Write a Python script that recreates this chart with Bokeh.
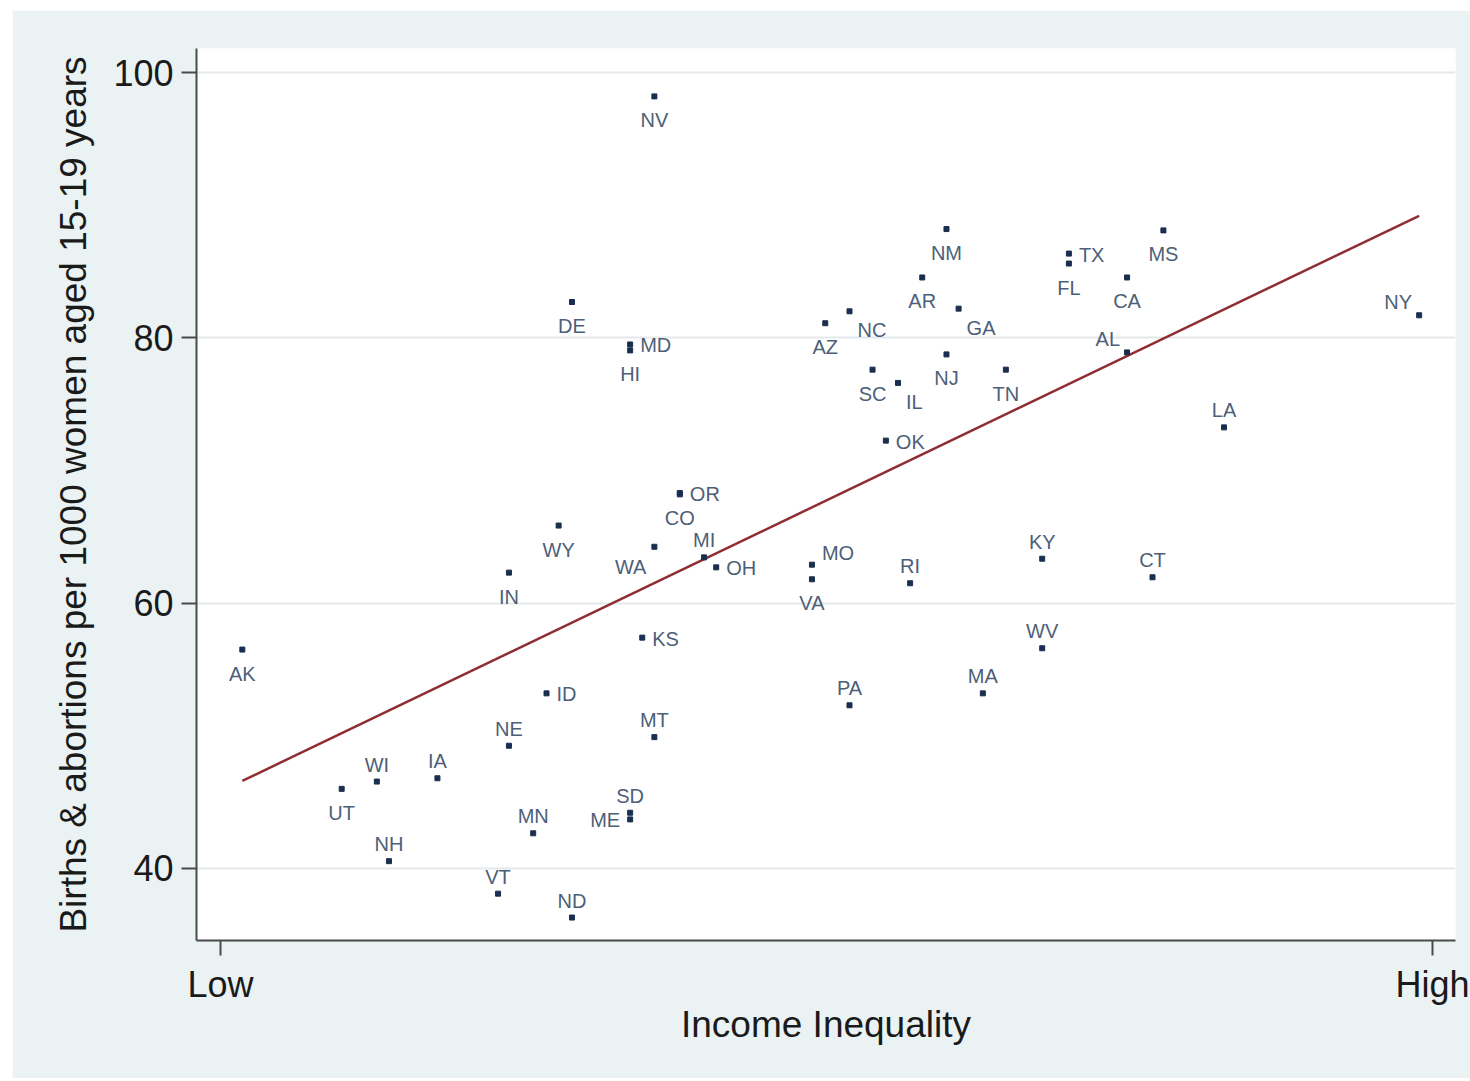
import numpy as np
from bokeh.plotting import figure
from bokeh.models import ColumnDataSource, FixedTicker, Range1d
from bokeh.core.properties import value
from bokeh.embed import file_html
from bokeh.resources import INLINE

# ---- data (income inequality scaled 0 = Low ... 1 = High) ----
states = ["NV", "NM", "MS", "TX", "FL", "CA", "AR", "DE", "GA", "NC",
          "AZ", "NY", "MD", "HI", "AL", "NJ", "TN", "SC", "IL", "LA",
          "OK", "OR", "CO", "WY", "WA", "KY", "MI", "OH", "MO", "VA",
          "IN", "CT", "RI", "KS", "AK", "WV", "ID", "MA", "PA", "MT",
          "NE", "IA", "WI", "UT", "SD", "ME", "MN", "NH", "VT", "ND"]
inequality = [0.358, 0.599, 0.778, 0.700, 0.700, 0.748, 0.579, 0.290, 0.609, 0.519,
              0.499, 0.989, 0.338, 0.338, 0.748, 0.599, 0.648, 0.538, 0.559, 0.828,
              0.549, 0.379, 0.379, 0.279, 0.358, 0.678, 0.399, 0.409, 0.488, 0.488,
              0.238, 0.769, 0.569, 0.348, 0.018, 0.678, 0.269, 0.629, 0.519, 0.358,
              0.238, 0.179, 0.129, 0.100, 0.338, 0.338, 0.258, 0.139, 0.229, 0.290]
teen_rate = [98.2, 88.2, 88.1, 86.35, 85.6, 84.55, 84.55, 82.7, 82.2, 82.0,
             81.1, 81.7, 79.5, 79.05, 78.9, 78.75, 77.6, 77.6, 76.6, 73.25,
             72.25, 68.3, 68.2, 65.85, 64.25, 63.35, 63.45, 62.7, 62.9, 61.8,
             62.3, 61.95, 61.5, 57.4, 56.5, 56.6, 53.2, 53.2, 52.3, 49.9,
             49.25, 46.8, 46.55, 46.0, 44.2, 43.7, 42.65, 40.55, 38.1, 36.3]

# marker-label clock positions (Stata style mlabvposition)
label_clock = [6, 6, 6, 3, 6, 6, 6, 6, 4, 4,
               6, 11, 3, 6, 11, 6, 6, 6, 4, 12,
               3, 3, 6, 6, 7, 12, 12, 3, 2, 6,
               6, 12, 12, 3, 6, 12, 3, 12, 12, 12,
               12, 12, 12, 6, 12, 9, 12, 12, 12, 12]

fit_y = [46.6, 89.2]            # fitted line at the lowest and highest x
y_ticks = [40, 60, 80, 100]
x_ticks = [0, 1]
x_tick_labels = ["Low", "High"]

x_title = "Income Inequality"
y_title = "Births & abortions per 1000 women aged 15-19 years"

# ---- style ----
FONT = "Liberation Sans"
BG = "#eaf2f3"
NAVY = "#1a2f4f"
LABEL_COL = "#4d5f78"
FIT_COL = "#8f2d33"
AXIS_COL = "#4a4a4a"

clock_style = {
    12: (0, -17, "center"),
    6: (0, 24, "center"),
    3: (10, 1, "left"),
    9: (-10, 1, "right"),
    4: (8, 19, "left"),
    7: (-8, 20, "right"),
    11: (-7, -13, "right"),
    2: (10, -12, "left"),
}
dx = [clock_style[c][0] for c in label_clock]
dy = [clock_style[c][1] for c in label_clock]
al = [clock_style[c][2] for c in label_clock]

src = ColumnDataSource(dict(x=inequality, y=teen_rate, state=states,
                            dx=dx, dy=dy, al=al))

fit_x = [min(inequality), max(inequality)]

p = figure(width=1458, height=1068,
           x_range=Range1d(-0.0198, 1.019), y_range=Range1d(34.57, 101.81),
           output_backend="svg", toolbar_location=None,
           min_border_left=184, min_border_right=15,
           min_border_top=38, min_border_bottom=138,
           background_fill_color="white", border_fill_color=BG,
           outline_line_color=None)
p.styles = {"margin-left": "12px", "margin-top": "10px"}

p.line(fit_x, fit_y, line_color=FIT_COL, line_width=2.5)
p.scatter("x", "y", source=src, marker="square", size=5,
          fill_color=NAVY, line_color=NAVY)
p.text("x", "y", text="state", source=src, x_offset="dx", y_offset="dy",
       text_align="al", text_baseline="alphabetic",
       text_font=value(FONT), text_font_size="20px", text_color=LABEL_COL)

# grid
p.xgrid.grid_line_color = None
p.ygrid.ticker = FixedTicker(ticks=y_ticks)
p.ygrid.grid_line_color = "#e3e8ea"
p.ygrid.grid_line_width = 2

# axes
p.xaxis.ticker = FixedTicker(ticks=x_ticks)
p.xaxis.major_label_overrides = {t: l for t, l in zip(x_ticks, x_tick_labels)}
p.yaxis.ticker = FixedTicker(ticks=y_ticks)
p.xaxis.axis_label = x_title
p.yaxis.axis_label = y_title

for ax in (p.xaxis, p.yaxis):
    ax.axis_line_color = AXIS_COL
    ax.axis_line_width = 2
    ax.major_tick_line_color = AXIS_COL
    ax.major_tick_line_width = 2
    ax.major_tick_out = 15
    ax.major_tick_in = 0
    ax.minor_tick_out = 0
    ax.minor_tick_in = 0
    ax.major_label_text_font = FONT
    ax.major_label_text_font_size = "36px"
    ax.major_label_text_color = "#1a1a1a"
    ax.axis_label_text_font = FONT
    ax.axis_label_text_font_size = "37px"
    ax.axis_label_text_font_style = "normal"
    ax.axis_label_text_color = "#1a1a1a"

p.xaxis.major_label_standoff = 8
p.xaxis.axis_label_standoff = -4
p.yaxis.major_label_standoff = 8
p.yaxis.axis_label_standoff = 16

open("out.html", "w").write(file_html(p, INLINE))
